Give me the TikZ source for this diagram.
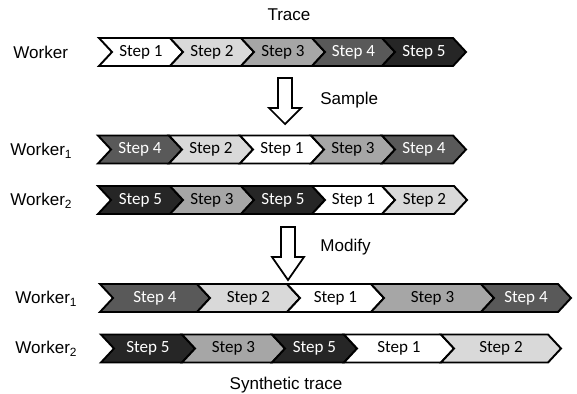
\documentclass[tikz,border=0pt]{standalone}
\usepackage{fontspec}
\setmainfont{Liberation Sans}
\newfontfamily\stepfont{Carlito}

\tikzset{
  chev/.style={draw=black, line width=1.1pt, line join=miter},
  step label/.style={font=\stepfont\fontsize{9.7}{11}\selectfont, inner sep=0},
  row label/.style={font=\fontsize{9.7}{11}\selectfont, anchor=west, inner sep=0},
  head label/.style={font=\fontsize{9.7}{11}\selectfont, inner sep=0},
  block arrow/.style={draw=black, fill=white, line width=1pt, line join=miter},
}
\colorlet{stepcol1}{white}
\colorlet{stepcol2}{black!15}
\colorlet{stepcol3}{black!35}
\colorlet{stepcol4}{black!65}
\colorlet{stepcol5}{black!85}
\colorlet{steptext1}{black}
\colorlet{steptext2}{black}
\colorlet{steptext3}{black}
\colorlet{steptext4}{white}
\colorlet{steptext5}{white}

\begin{document}
\begin{tikzpicture}[x=0.02cm, y=-0.02cm]
    % units are pixels of the 577x393 layout, y grows downwards
    \useasboundingbox (0,0) rectangle (577,393);
    \def\hh{14}  % half height of a chevron
    \def\dd{13}  % depth of tip / notch

    % === Original trace ===
    \node[head label] (trace) at (289,15) {Trace};
    \node[row label] (worker) at (13,52) {Worker};
    \def\ry{52}
    \foreach \xa/\xb/\s [count=\i] in {99/170/1,170/241/2,241/312/3,312/382/4,382/453/5} {
      \draw[chev, fill=stepcol\s] (\xa,\ry-\hh) -- (\xb,\ry-\hh) -- (\xb+\dd,\ry)
        -- (\xb,\ry+\hh) -- (\xa,\ry+\hh) -- (\xa+\dd,\ry) -- cycle;
      \pgfmathsetmacro{\cx}{(\xa+\xb+\dd)/2}
      \node[step label, text=steptext\s] (tr\i) at (\cx,\ry) {Step \s};
    }

    % === Sample arrow ===
    \draw[block arrow] (278,78) -- (292,78) -- (292,108) -- (301,108)
      -- (285,124) -- (269,108) -- (278,108) -- cycle;
    \node[head label, anchor=west] (sample) at (320,100) {Sample};

    % === Sampled workers ===
    \node[row label] (wa) at (10,151) {Worker\textsubscript{1}};
    \def\ry{149.5}
    \foreach \xa/\xb/\s [count=\i] in {98/169/4,169/240/2,240/311/1,311/382/3,382/453/4} {
      \draw[chev, fill=stepcol\s] (\xa,\ry-\hh) -- (\xb,\ry-\hh) -- (\xb+\dd,\ry)
        -- (\xb,\ry+\hh) -- (\xa,\ry+\hh) -- (\xa+\dd,\ry) -- cycle;
      \pgfmathsetmacro{\cx}{(\xa+\xb+\dd)/2}
      \node[step label, text=steptext\s] (sa\i) at (\cx,\ry) {Step \s};
    }

    \node[row label] (wb) at (10,201) {Worker\textsubscript{2}};
    \def\ry{200}
    \foreach \xa/\xb/\s [count=\i] in {98/170/5,170/241/3,241/312/5,312/382/1,382/454/2} {
      \draw[chev, fill=stepcol\s] (\xa,\ry-\hh) -- (\xb,\ry-\hh) -- (\xb+\dd,\ry)
        -- (\xb,\ry+\hh) -- (\xa,\ry+\hh) -- (\xa+\dd,\ry) -- cycle;
      \pgfmathsetmacro{\cx}{(\xa+\xb+\dd)/2}
      \node[step label, text=steptext\s] (sb\i) at (\cx,\ry) {Step \s};
    }

    % === Modify arrow ===
    \draw[block arrow] (281,227) -- (295,227) -- (295,257) -- (304,257)
      -- (288,280) -- (272,257) -- (281,257) -- cycle;
    \node[head label, anchor=west] (modify) at (320,247) {Modify};

    % === Synthetic trace ===
    \node[row label] (ma) at (15,299) {Worker\textsubscript{1}};
    \def\ry{298}
    \foreach \xa/\xb/\s [count=\i] in {100/197/4,197/287/2,287/371/1,371/481/3,481/558/4} {
      \draw[chev, fill=stepcol\s] (\xa,\ry-\hh) -- (\xb,\ry-\hh) -- (\xb+\dd,\ry)
        -- (\xb,\ry+\hh) -- (\xa,\ry+\hh) -- (\xa+\dd,\ry) -- cycle;
      \pgfmathsetmacro{\cx}{(\xa+\xb+\dd)/2}
      \node[step label, text=steptext\s] (ma\i) at (\cx,\ry) {Step \s};
    }

    \node[row label] (mb) at (15,349) {Worker\textsubscript{2}};
    \def\ry{348.5}
    \foreach \xa/\xb/\s [count=\i] in {101/182/5,182/272/3,272/344/5,344/441/1,441/548/2} {
      \draw[chev, fill=stepcol\s] (\xa,\ry-\hh) -- (\xb,\ry-\hh) -- (\xb+\dd,\ry)
        -- (\xb,\ry+\hh) -- (\xa,\ry+\hh) -- (\xa+\dd,\ry) -- cycle;
      \pgfmathsetmacro{\cx}{(\xa+\xb+\dd)/2}
      \node[step label, text=steptext\s] (mb\i) at (\cx,\ry) {Step \s};
    }

    \node[head label] (synth) at (286,385) {Synthetic trace};

  \end{tikzpicture}
\end{document}
